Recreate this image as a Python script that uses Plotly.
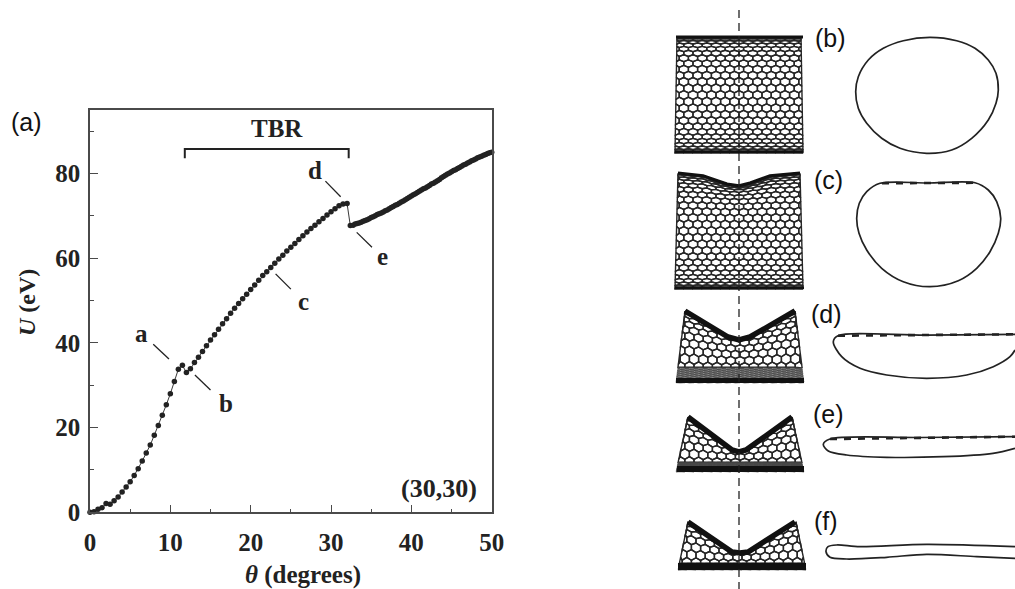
import numpy as np
import plotly.graph_objects as go

# ---- panel (a) data ----
theta = [0, 0.5, 1, 1.5, 2, 2.5, 3, 3.5, 4, 4.5, 5, 5.5, 6, 6.5, 7, 7.5, 8, 8.5, 9, 9.5,
         10, 10.5, 11, 11.5, 12, 12.5, 13, 13.5, 14, 14.5, 15, 15.5, 16, 16.5, 17, 17.5,
         18, 18.5, 19, 19.5, 20, 20.5, 21, 21.5, 22, 22.5, 23, 23.5, 24, 24.5, 25, 25.5,
         26, 26.5, 27, 27.5, 28, 28.5, 29, 29.5, 30, 30.5, 31, 31.5, 32, 32.4,
         32.75, 33, 33.25, 33.5, 33.75, 34, 34.25, 34.5, 34.75, 35, 35.25, 35.5, 35.75,
         36, 36.25, 36.5, 36.75, 37, 37.25, 37.5, 37.75, 38, 38.25, 38.5, 38.75, 39,
         39.25, 39.5, 39.75, 40, 40.25, 40.5, 40.75, 41, 41.25, 41.5, 41.75, 42, 42.25,
         42.5, 42.75, 43, 43.25, 43.5, 43.75, 44, 44.25, 44.5, 44.75, 45, 45.25, 45.5,
         45.75, 46, 46.25, 46.5, 46.75, 47, 47.25, 47.5, 47.75, 48, 48.25, 48.5, 48.75,
         49, 49.25, 49.5, 49.75, 50]
energy = [0, 0.15, 0.7, 1.1, 2.05, 1.9, 2.75, 3.6, 4.8, 5.95, 7.2, 8.7, 10.3, 12.1, 14, 15.9,
          18.2, 20.5, 22.9, 25.4, 28, 30.9, 33.8, 34.7, 33, 33.9, 35.4, 36.6, 38, 39.3, 40.7,
          41.9, 43.2, 44.5, 45.7, 47, 48.2, 49.3, 50.4, 51.5, 52.6, 53.7, 54.8, 55.9, 56.8,
          57.8, 58.8, 59.8, 60.7, 61.7, 62.6, 63.5, 64.4, 65.3, 66.2, 67, 67.8, 68.6, 69.4,
          70.2, 71, 71.7, 72.4, 72.8, 72.9, 67.7,
          67.8, 68.1, 68.2, 68.3, 68.5, 68.7, 68.9, 69.1, 69.3, 69.6, 69.8, 70, 70.3,
          70.5, 70.7, 70.9, 71.2, 71.4, 71.7, 72, 72.2, 72.5, 72.7, 73, 73.3, 73.5,
          73.8, 74.1, 74.4, 74.7, 75, 75.2, 75.5, 75.8, 76.1, 76.4, 76.6, 76.9, 77.2,
          77.5, 77.7, 78, 78.3, 78.6, 79, 79.3, 79.6, 79.9, 80.1, 80.4, 80.7, 80.9,
          81.2, 81.4, 81.7, 82, 82.2, 82.5, 82.7, 83, 83.2, 83.4, 83.7, 83.9, 84.1,
          84.3, 84.5, 84.7, 84.9, 85]
x_ticks = [0, 10, 20, 30, 40, 50]
y_ticks = [0, 20, 40, 60, 80]

bracket_x = [11.8, 11.8, 32.2, 32.2]
bracket_y = [83.6, 85.8, 85.8, 83.6]
leader_a = ([7.87, 9.83], [39.7, 36.2])
leader_b = ([13.06, 15.0], [32.4, 28.9])
leader_c = ([23.1, 25.0], [56.3, 52.7])
leader_d = ([29.3, 31.2], [78.2, 74.5])
leader_e = ([33.2, 35.1], [66.1, 62.6])
point_labels = ["a", "b", "c", "d", "e", "TBR", "(30,30)"]
point_label_x = [6.43, 16.9, 26.6, 28.0, 36.4, 23.3, 43.4]
point_label_y = [42.3, 25.6, 49.7, 80.8, 60.4, 90.7, 5.7]
point_label_size = [25, 25, 25, 25, 25, 25, 26]

# ---- cross-section outlines (picture pixels) ----
sec_b_x = [998.3, 996, 988.3, 975, 956.7, 930, 903.3, 883.3, 868.3, 858.3, 855.7, 858.3, 866.7, 881.7, 900, 926.7, 951.7, 971.7, 988.3, 996, 998.3]
sec_b_y = [90, 73.3, 60, 48.3, 40.7, 37.3, 40.7, 48.3, 60, 76.7, 91.7, 108.3, 123.3, 138.3, 148.3, 153.3, 150, 138.3, 120, 103.3, 90]
sec_c_x = [880, 928, 975, 988.3, 996.7, 1000.7, 998.3, 990, 976.7, 958.3, 930, 903.3, 881.7, 866.7, 859, 856.7, 859.3, 866.7, 880]
sec_c_y = [183.3, 183, 182.7, 190, 201.7, 218.3, 233.3, 251.7, 268.3, 280.7, 286.7, 281.7, 268.3, 250, 233.3, 218.3, 203.3, 191.7, 183.3]
sec_d_x = [1015, 926, 838, 833.3, 841.7, 860, 886.7, 926.7, 966.7, 993.3, 1010, 1015]
sec_d_y = [334.3, 335.2, 335.7, 341.7, 356.7, 368.3, 375, 378.3, 375, 366.7, 356.7, 350]
sec_e_x = [1015, 920, 830, 823.3, 828.3, 846.7, 886.7, 943, 993, 1015]
sec_e_y = [436.7, 437.5, 439, 444.3, 451, 455, 457.3, 456.7, 453.3, 448.3]
sec_f_x = [1015, 926.7, 860, 836.7, 828, 826, 830, 846.7, 886.7, 926.7, 976.7, 1015]
sec_f_y = [546.7, 544.3, 546.7, 545, 546.7, 551.7, 557.3, 559, 557.3, 554.3, 556.7, 558.3]
# the collapsed top walls look beaded in the picture
bead_c = ([882, 975], [183.2, 182.8])
bead_d = ([838, 1015], [335.7, 334.3])
bead_e = ([830, 1015], [439, 436.7])

# ---- side-view tube outlines (picture pixels) ----
tube_b_x = [676, 803]
tube_b_top = [37, 37]
tube_c_x = [678, 703, 727, 739, 750, 770, 800]
tube_c_top = [173, 175.7, 184, 185.7, 183, 175.7, 173]
tube_d_x = [685, 728, 739, 750, 795]
tube_d_top = [311, 337, 340, 337, 311]
tube_e_x = [688, 732, 739, 746, 792]
tube_e_top = [417, 450, 452, 450, 417]
tube_f_x = [688, 732, 740, 748, 795]
tube_f_top = [522, 552, 553, 552, 522]
tube_bottoms = [153, 289, 383, 472, 570]
tube_bands = [0, 0, 16, 10, 7]
tube_band_rows = [-14, -14, 3.0, 5.0, 6.0]
tube_half_bottom = [64, 64, 64, 64, 64]
tube_half_top = [62, 61, 55, 52, 54]
tube_centres = [739, 739, 740, 740, 742]
panel_labels = ["(a)", "(b)", "(c)", "(d)", "(e)", "(f)"]
panel_label_x = [26, 830, 828, 826, 828, 826]
panel_label_y = [122, 38, 180, 314, 414, 521]

INK = "#222222"
AXIS = "#4a4a4a"
SERIF = "Liberation Serif"
SANS = "Liberation Sans"

fig = go.Figure()


def lattice(xs, tops, bottom, band, t0, hw_bot, hw_top, xc):
    """Honeycomb mesh wrapped between the tube's top profile and its bottom.
    Returns the open rows and the squashed rows of the bottom band separately."""
    a = 9.2
    n_rows = 13
    span = n_rows + 0.667
    edge_top = min(tops)
    open_x, open_y, band_x, band_y = [], [], [], []

    def place(s, t):
        top = float(np.interp(xc + s, xs, tops))
        if band == 0:
            q = (1 + np.sin(t / span * np.pi / 2)) / 2
            # a shallow dent only bends the rows closest to it
            eff = edge_top + (top - edge_top) * q ** 6
            y = bottom + (eff - bottom) * q
        else:
            # the rows tilt only part of the way with the V and are cut off by it
            soft = 0.45 * top + 0.55 * edge_top
            if t < t0:
                q = (t + span) / (t0 + span)
                y = bottom - band * q
            else:
                q = np.sin((t - t0) / (span - t0) * np.pi / 2)
                y = bottom - band - (bottom - band - soft) * q
            y = max(y, top)
            q = (bottom - y) / (bottom - edge_top)
        hw = hw_bot + (hw_top - hw_bot) * q
        return xc + float(np.clip(s, -hw, hw)), y

    for k in range(-n_rows, n_rows + 1):
        off = a / 2 if k % 2 else 0
        tx, ty = (band_x, band_y) if k < t0 else (open_x, open_y)
        for i in range(-8, 9):
            cx = i * a + off
            if abs(cx) > hw_bot + 2:
                continue
            ring = [(cx, k + 0.667), (cx + a / 2, k + 0.333), (cx + a / 2, k - 0.333),
                    (cx, k - 0.667), (cx - a / 2, k - 0.333), (cx - a / 2, k + 0.333),
                    (cx, k + 0.667)]
            for s, t in ring:
                x, y = place(s, t)
                tx.append(x)
                ty.append(y)
            tx.append(None)
            ty.append(None)
    return open_x, open_y, band_x, band_y


def overlay_line(x, y, width, color=INK, dash=None, shape="linear"):
    fig.add_trace(go.Scatter(x=x, y=y, xaxis="x2", yaxis="y2", mode="lines",
                             line=dict(color=color, width=width, dash=dash, shape=shape, smoothing=0.9),
                             hoverinfo="skip", showlegend=False))


# side views
tubes = [(tube_b_x, tube_b_top), (tube_c_x, tube_c_top), (tube_d_x, tube_d_top),
         (tube_e_x, tube_e_top), (tube_f_x, tube_f_top)]
top_widths = [3, 3, 5.5, 5.5, 5.5]
for n, (xs, tops) in enumerate(tubes):
    ox, oy, bx, by = lattice(xs, tops, tube_bottoms[n], tube_bands[n], tube_band_rows[n],
                             tube_half_bottom[n], tube_half_top[n], tube_centres[n])
    overlay_line(ox, oy, 1.4, color="#262626")
    if bx:
        overlay_line(bx, by, 0.7, color="#444444")
    overlay_line(xs, tops, top_widths[n], color="#111111")
band_widths = [2.5, 2.5, 5, 6, 7]
band_left = [675, 675, 676, 677, 678]
band_right = [803, 804, 804, 804, 806]
for n in range(5):
    yb = tube_bottoms[n] - band_widths[n] / 2
    overlay_line([band_left[n], band_right[n]], [yb, yb], band_widths[n], color="#111111")

# dashed axis through the side views
overlay_line([739, 739], [10, 589], 1.3, color="#222222", dash="8px,5px")

# cross sections
for sx, sy in [(sec_b_x, sec_b_y), (sec_c_x, sec_c_y), (sec_d_x, sec_d_y),
               (sec_e_x, sec_e_y), (sec_f_x, sec_f_y)]:
    overlay_line(sx, sy, 1.7, shape="spline")
for bx, by in [bead_c, bead_d, bead_e]:
    overlay_line(bx, by, 2.6, dash="7px,7px")

# panel (a)
fig.add_trace(go.Scatter(x=theta, y=energy, mode="lines+markers",
                         line=dict(color=INK, width=0.9),
                         marker=dict(color=INK, size=5.5),
                         cliponaxis=False, showlegend=False))
fig.add_trace(go.Scatter(x=bracket_x, y=bracket_y, mode="lines",
                         line=dict(color=INK, width=2), showlegend=False, hoverinfo="skip"))
for lx, ly in [leader_a, leader_b, leader_c, leader_d, leader_e]:
    fig.add_trace(go.Scatter(x=lx, y=ly, mode="lines", line=dict(color=INK, width=1.3),
                             showlegend=False, hoverinfo="skip"))

anns = []
for t, x, y, sz in zip(point_labels, point_label_x, point_label_y, point_label_size):
    anns.append(dict(text=f"<b>{t}</b>", x=x, y=y, xref="x", yref="y", showarrow=False,
                     font=dict(family=SERIF, size=sz, color=INK)))
for t, x, y in zip(panel_labels, panel_label_x, panel_label_y):
    anns.append(dict(text=t, x=x, y=y, xref="x2", yref="y2", showarrow=False,
                     font=dict(family=SANS, size=25, color="#111111")))
anns.append(dict(text="<b><i>θ</i> (degrees)</b>", x=303, y=575, xref="x2", yref="y2", showarrow=False,
                 font=dict(family=SERIF, size=25, color=INK)))
anns.append(dict(text="<b><i>U</i> (eV)</b>", x=27, y=303, xref="x2", yref="y2", showarrow=False,
                 textangle=-90, font=dict(family=SERIF, size=24, color=INK)))

W, H = 1015, 589
axis_common = dict(showgrid=False, zeroline=False, showline=True, linecolor=AXIS, linewidth=1.6,
                   mirror=True, ticks="inside", ticklen=8, tickwidth=1.3, tickcolor=AXIS,
                   tickfont=dict(family=SERIF, size=25, color=INK),
                   minor=dict(ticks="inside", ticklen=4, tickwidth=1.3, tickcolor=AXIS, showgrid=False))
fig.update_layout(
    width=W, height=H, margin=dict(l=0, r=0, t=0, b=0, autoexpand=False), paper_bgcolor="white",
    plot_bgcolor="rgba(0,0,0,0)",
    showlegend=False, annotations=anns,
    xaxis=dict(domain=[90 / W, 491.7 / W], range=[0, 50], tickmode="array", tickvals=x_ticks,
               ticktext=[f"<b>{v}</b>" for v in x_ticks], anchor="y", ticklabelstandoff=7,
               **{**axis_common, "minor": {**axis_common["minor"], "tickvals": [5, 15, 25, 35, 45]}}),
    yaxis=dict(domain=[1 - 512.3 / H, 1 - 110 / H], range=[0, 95], tickmode="array", tickvals=y_ticks,
               ticktext=[f"<b>{v}</b>" for v in y_ticks], anchor="x", ticklabelstandoff=3,
               **{**axis_common, "minor": {**axis_common["minor"], "tickvals": [10, 30, 50, 70, 90]}}),
    xaxis2=dict(domain=[0, 1], range=[0, W], visible=False, anchor="y2", fixedrange=True),
    yaxis2=dict(domain=[0, 1], range=[H, 0], visible=False, anchor="x2", fixedrange=True),
)

fig.write_html("out.html", config=dict(displayModeBar=False),
               post_script="document.body.style.margin='0';")
